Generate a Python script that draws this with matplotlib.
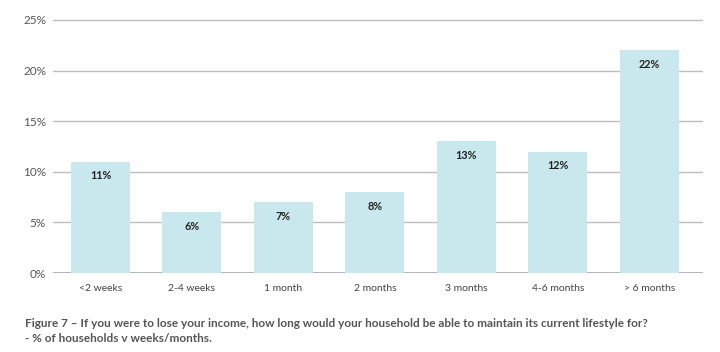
import matplotlib
matplotlib.use('Agg')
import matplotlib.pyplot as plt

categories = ['<2 weeks', '2-4 weeks', '1 month', '2 months', '3 months', '4-6 months', '> 6 months']
values = [11, 6, 7, 8, 13, 12, 22]
yticks = [0, 5, 10, 15, 20, 25]

plt.rcParams['font.family'] = ['Lato', 'DejaVu Sans']

fig = plt.figure(figsize=(7.2, 3.52), dpi=100)
ax = fig.add_axes([0.0736, 0.2244, 0.9024, 0.7333])

x = range(len(categories))
ax.bar(x, values, width=0.645, color='#c9e8ed', zorder=2)

for i, v in enumerate(values):
    ax.annotate(f'{v}%', (i, v), xytext=(0, -14), textcoords='offset pixels',
                ha='center', va='center', fontsize=7.8, fontweight='bold',
                color='#222222', zorder=3)

ax.set_xlim(-0.52, 6.585)
ax.set_ylim(0, 25.5)
ax.set_yticks(yticks)
ax.set_yticklabels([f'{t}%' for t in yticks])
ax.set_xticks(list(x))
ax.set_xticklabels(categories)

ax.grid(axis='y', color='#bdbdbd', linewidth=1, zorder=0)
ax.axhline(0, color='#a4a7ad', linewidth=1.2, zorder=1)
for s in ax.spines.values():
    s.set_visible(False)
ax.tick_params(axis='y', length=0, pad=5, labelsize=8.5, labelcolor='#555555')
ax.tick_params(axis='x', length=0, pad=8, labelsize=7.5, labelcolor='#444444')

fig.text(0.035, 0.08, 'Figure 7 \u2013 If you were to lose your income, how long would your household be able to maintain its current lifestyle for?',
         fontsize=8.5, fontweight='bold', color='#555555', va='center')
fig.text(0.035, 0.037, '- % of households v weeks/months.',
         fontsize=8.5, fontweight='bold', color='#555555', va='center')

fig.savefig('out.png', dpi=100)
